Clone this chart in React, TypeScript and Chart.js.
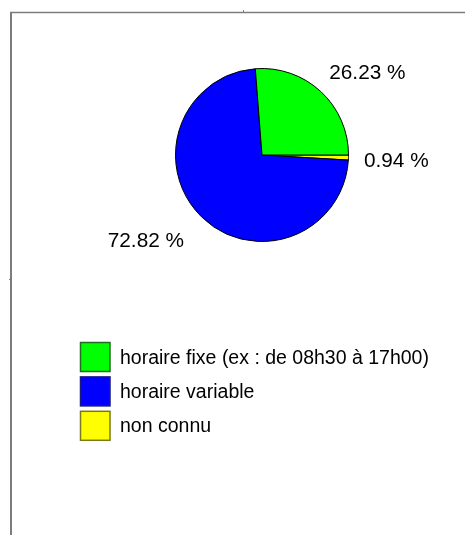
import { useEffect, useRef } from "react";
import { Chart, registerables } from "chart.js";

Chart.register(...registerables);

// ---- data (legend order) ----
const categories = [
  "horaire fixe (ex : de 08h30 à 17h00)",
  "horaire variable",
  "non connu",
];
const percentages = [26.23, 72.82, 0.94];
const valueLabels = ["26.23 %", "72.82 %", "0.94 %"];
const fillColors = ["#00ff00", "#0000ff", "#ffff00"];
const legendBorderColors = ["#1f6e1f", "#1a1a7a", "#7a7a1a"];

const FONT_FAMILY = '"Liberation Sans", Arial, sans-serif';
const LEGEND_FONT_SIZE = 19.5;
const LABEL_FONT_SIZE = 20.8;
const W = 465;
const H = 535;

// slices are drawn clockwise from 3 o'clock in reverse order,
// which reproduces a counter-clockwise layout of the legend order
const order = [2, 1, 0];

const decorPlugin = {
  id: "decor",
  afterDraw(chart: any) {
    const ctx = chart.ctx as CanvasRenderingContext2D;
    ctx.save();

    // frame lines
    ctx.strokeStyle = "#7d7d7d";
    ctx.lineWidth = 1.5;
    ctx.beginPath();
    ctx.moveTo(10, 12.5);
    ctx.lineTo(W, 12.5);
    ctx.stroke();
    ctx.lineWidth = 2;
    ctx.beginPath();
    ctx.moveTo(11, 12);
    ctx.lineTo(11, H);
    ctx.stroke();
    ctx.lineWidth = 1;
    ctx.beginPath();
    ctx.moveTo(243.5, 10);
    ctx.lineTo(243.5, 13);
    ctx.moveTo(9, 279.5);
    ctx.lineTo(12, 279.5);
    ctx.stroke();

    // value labels around the pie
    ctx.font = `${LABEL_FONT_SIZE}px ${FONT_FAMILY}`;
    ctx.fillStyle = "#000";
    ctx.textAlign = "left";
    ctx.textBaseline = "alphabetic";
    const meta = chart.getDatasetMeta(0);
    const boxH = 20;
    const asc = 19;
    const boxPad = 7;
    meta.data.forEach((arc: any, k: number) => {
      const i = order[k];
      const p = arc.getProps(["x", "y", "startAngle", "endAngle", "outerRadius"], true);
      const mid = (p.startAngle + p.endAngle) / 2;
      let a = -mid;
      const TWO = Math.PI * 2;
      while (a < 0) a += TWO;
      while (a > TWO) a -= TWO;
      const r = p.outerRadius + 15.5;
      const xt = p.x + r * Math.cos(a);
      const yt = p.y - r * Math.sin(a);
      const PI = Math.PI;
      let dx = 0;
      let dy = 0;
      if (a >= (7 * PI) / 4 || a <= PI / 4) dx = 0;
      if (a >= PI / 4 && a <= (3 * PI) / 4) dx = ((a - PI / 4) * 2) / PI;
      if (a >= (3 * PI) / 4 && a <= (5 * PI) / 4) dx = 1;
      if (a >= (5 * PI) / 4 && a <= (7 * PI) / 4) dx = 1 - ((a - (PI * 5) / 4) * 2) / PI;
      if (a >= (7 * PI) / 4) dy = ((a - PI - (3 * PI) / 4) * 2) / PI;
      if (a <= PI / 4) dy = 1 - (a * 2) / PI;
      if (a >= PI / 4 && a <= (3 * PI) / 4) dy = 1;
      if (a >= (3 * PI) / 4 && a <= (5 * PI) / 4) dy = 1 - ((a - (3 * PI) / 4) * 2) / PI;
      if (a >= (5 * PI) / 4 && a <= (7 * PI) / 4) dy = 0;
      const txt = valueLabels[i];
      const w = ctx.measureText(txt).width + boxPad;
      const bx = xt - dx * w;
      const by = yt - dy * boxH;
      ctx.fillText(txt, bx, by + asc);
    });

    // legend
    ctx.font = `${LEGEND_FONT_SIZE}px ${FONT_FAMILY}`;
    const lx = 80.5;
    const ly = 342.5;
    const step = 34.4;
    categories.forEach((label, i) => {
      const y = ly + i * step;
      ctx.fillStyle = fillColors[i];
      ctx.fillRect(lx, y, 29.5, 29);
      ctx.strokeStyle = legendBorderColors[i];
      ctx.lineWidth = 1.5;
      ctx.strokeRect(lx, y, 29.5, 29);
      ctx.fillStyle = "#000";
      ctx.fillText(label, 120, y + 21);
    });

    ctx.restore();
  },
};

export default function App() {
  const ref = useRef<HTMLCanvasElement | null>(null);

  useEffect(() => {
    if (!ref.current) return;
    const chart = new Chart(ref.current, {
      type: "pie",
      data: {
        labels: order.map((i) => categories[i]),
        datasets: [
          {
            data: order.map((i) => percentages[i]),
            backgroundColor: order.map((i) => fillColors[i]),
            borderColor: "#000000",
            borderWidth: 1,
          },
        ],
      },
      options: {
        responsive: false,
        animation: false,
        rotation: 90,
        layout: { padding: { left: 175, right: 116, top: 68, bottom: 293 } },
        plugins: {
          legend: { display: false },
          tooltip: { enabled: false },
          title: { display: false },
        },
      },
      plugins: [decorPlugin],
    });
    return () => chart.destroy();
  }, []);

  return (
    <div style={{ position: "absolute", left: 0, top: 0, width: W, height: H, background: "#fff" }}>
      <canvas ref={ref} width={W} height={H} style={{ display: "block", width: W, height: H }} />
    </div>
  );
}
